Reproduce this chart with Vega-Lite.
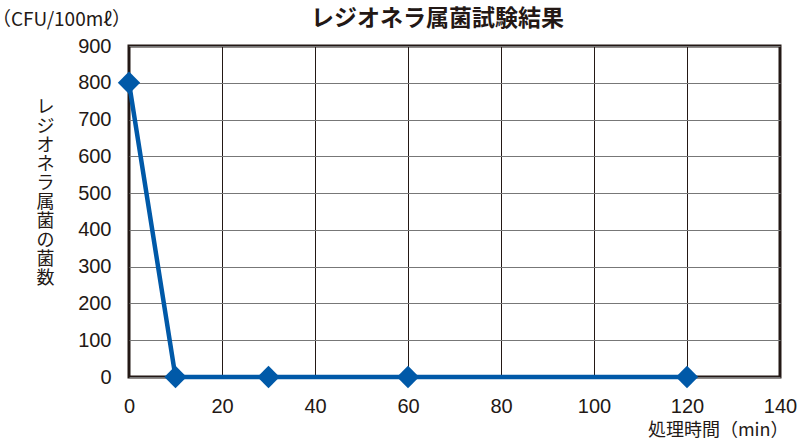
{
  "$schema": "https://vega.github.io/schema/vega-lite/v6.json",
  "width": 651,
  "height": 331,
  "autosize": {"type": "none"},
  "padding": {"left": 129, "top": 46, "right": 20, "bottom": 68},
  "background": "white",
  "title": {
    "text": "レジオネラ属菌試験結果",
    "font": "Noto Sans CJK JP",
    "fontSize": 23,
    "fontWeight": "bold",
    "color": "#231815",
    "anchor": "middle",
    "dx": -17,
    "dy": 20,
    "offset": 0
  },
  "config": {
    "view": {"stroke": "#231815", "strokeWidth": 3},
    "axis": {
      "labelFont": "Liberation Sans",
      "labelFontSize": 20,
      "labelColor": "#231815",
      "labelOverlap": false,
      "labelFlush": false,
      "ticks": false,
      "domain": false,
      "titleFont": "Noto Sans CJK JP",
      "titleFontWeight": "normal",
      "titleColor": "#231815"
    }
  },
  "data": {
    "values": [
      {"time": 0, "count": 800},
      {"time": 10, "count": 0},
      {"time": 30, "count": 0},
      {"time": 60, "count": 0},
      {"time": 120, "count": 0}
    ]
  },
  "encoding": {
    "x": {
      "field": "time",
      "type": "quantitative",
      "scale": {"domain": [0, 140], "nice": false},
      "axis": {
        "values": [0, 20, 40, 60, 80, 100, 120, 140],
        "grid": true,
        "gridColor": "#231815",
        "gridWidth": 1,
        "labelOverlap": false,
        "labelFlush": false,
        "labelPadding": 19,
        "title": "処理時間（min）",
        "titleFontSize": 18,
        "titleAnchor": "end",
        "titleAlign": "right",
        "titleBaseline": "middle",
        "titleX": 659,
        "titleY": 53
      }
    },
    "y": {
      "field": "count",
      "type": "quantitative",
      "scale": {"domain": [0, 900], "nice": false},
      "axis": {
        "values": [0, 100, 200, 300, 400, 500, 600, 700, 800, 900],
        "grid": true,
        "gridColor": "#777777",
        "gridWidth": 1,
        "labelOverlap": false,
        "labelPadding": 18,
        "title": ["レ", "ジ", "オ", "ネ", "ラ", "属", "菌", "の", "菌", "数"],
        "titleFontSize": 18,
        "titleAngle": 0,
        "titleAlign": "center",
        "titleBaseline": "top",
        "titleLineHeight": 19,
        "titleX": -84,
        "titleY": 52
      }
    }
  },
  "layer": [
    {
      "mark": {"type": "line", "color": "#0059a8", "strokeWidth": 4.5, "clip": false}
    },
    {
      "mark": {"type": "point", "shape": "diamond", "filled": true, "color": "#0059a8", "size": 500, "opacity": 1, "clip": false}
    },
    {
      "data": {"values": [{"label": "（CFU/100mℓ）", "time": 0, "count": 900}]},
      "mark": {"type": "text", "align": "right", "baseline": "middle", "font": "Noto Sans CJK JP", "fontSize": 19, "color": "#231815", "dy": -26, "dx": 2, "clip": false},
      "encoding": {
        "text": {"field": "label"}
      }
    }
  ]
}
